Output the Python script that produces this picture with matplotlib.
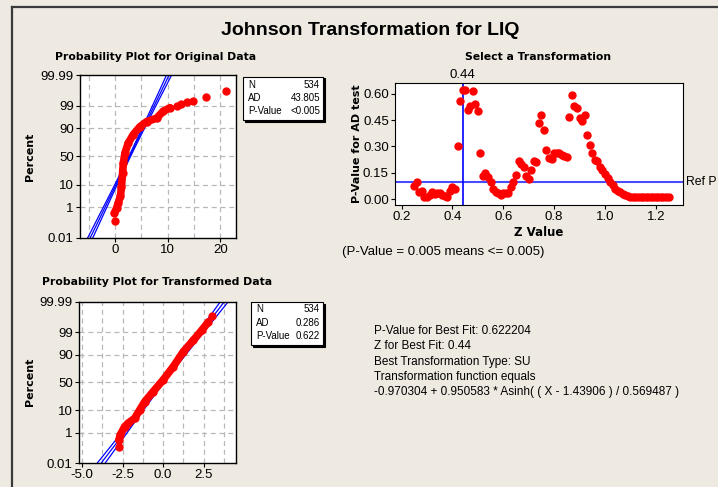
import matplotlib
matplotlib.use('Agg')
import matplotlib.pyplot as plt
import numpy as np
from matplotlib.patches import Rectangle
from matplotlib.lines import Line2D
from statistics import NormalDist

W, H = 718, 487
BG = '#EEEAE2'
RED = '#FF0000'
BLUE = '#0000FF'
GRID = '#B8B8B8'

# ---------------- data ----------------
pct_ticks = [0.01, 1, 10, 50, 90, 99, 99.99]
pct_labels = ['0.01', '1', '10', '50', '90', '99', '99.99']

# Original data: value vs cumulative percent
orig_val = [-0.10, -0.15, 0.27, 0.57, 1.00, 1.20, 1.40, 1.55, 1.85, 2.48, 3.43,
            4.70, 5.98, 7.90, 9.10, 10.40, 11.70, 12.60, 13.70, 14.90, 17.30, 21.10]
orig_pct = [0.17, 0.49, 0.94, 1.66, 3.4, 8.5, 22.0, 38.0, 56.0, 73.0, 84.0,
            91.3, 94.4, 96.0, 98.0, 98.7, 99.0, 99.13, 99.32, 99.43, 99.65, 99.86]
orig_mu, orig_sigma, n_obs = 2.75, 2.02, 534

# Transformed data
trans_val = [-2.74, -2.74, -2.65, -2.38, -2.18, -1.76, -1.45, -1.14, -0.62, 0.00,
             0.62, 1.24, 1.87, 2.39, 2.80, 3.01]
trans_pct = [0.15, 0.39, 0.78, 2.07, 2.94, 4.95, 10.2, 18.7, 33.7, 54.8,
             76.7, 92.2, 97.5, 99.22, 99.75, 99.89]
trans_mu, trans_sigma = -0.03, 1.02

# Select a transformation: Z value vs AD p-value
z_values = [0.25, 0.26, 0.27, 0.28, 0.29, 0.30, 0.31, 0.32, 0.33, 0.34,
            0.35, 0.36, 0.37, 0.38, 0.39, 0.40, 0.41, 0.42, 0.43, 0.44,
            0.45, 0.46, 0.47, 0.48, 0.49, 0.50, 0.51, 0.52, 0.53, 0.54,
            0.55, 0.56, 0.57, 0.58, 0.59, 0.60, 0.61, 0.62, 0.63, 0.64,
            0.65, 0.66, 0.67, 0.68, 0.69, 0.70, 0.71, 0.72, 0.73, 0.74,
            0.75, 0.76, 0.77, 0.78, 0.79, 0.80, 0.81, 0.82, 0.83, 0.84,
            0.85, 0.86, 0.87, 0.88, 0.89, 0.90, 0.91, 0.92, 0.93, 0.94,
            0.95, 0.96, 0.97, 0.98, 0.99, 1.00, 1.01, 1.02, 1.03, 1.04,
            1.05, 1.06, 1.07, 1.08, 1.09, 1.10, 1.11, 1.12, 1.13, 1.14,
            1.15, 1.16, 1.17, 1.18, 1.19, 1.20, 1.21, 1.22, 1.23, 1.24, 1.25]
p_values = [0.076, 0.095, 0.042, 0.045, 0.013, 0.013, 0.025, 0.040, 0.030, 0.036,
            0.036, 0.025, 0.020, 0.013, 0.048, 0.068, 0.057, 0.305, 0.561, 0.624,
            0.624, 0.506, 0.532, 0.618, 0.540, 0.500, 0.265, 0.132, 0.147, 0.124,
            0.099, 0.055, 0.042, 0.032, 0.023, 0.035, 0.032, 0.035, 0.070, 0.095,
            0.135, 0.215, 0.200, 0.180, 0.130, 0.115, 0.165, 0.215, 0.210, 0.435,
            0.480, 0.395, 0.280, 0.235, 0.228, 0.265, 0.265, 0.265, 0.252, 0.246,
            0.242, 0.466, 0.595, 0.528, 0.518, 0.462, 0.443, 0.481, 0.366, 0.310,
            0.265, 0.225, 0.218, 0.185, 0.165, 0.145, 0.120, 0.100, 0.080, 0.060,
            0.048, 0.042, 0.030, 0.022, 0.016, 0.013, 0.013, 0.013, 0.013, 0.013,
            0.013, 0.013, 0.013, 0.013, 0.013, 0.013, 0.013, 0.013, 0.013, 0.013, 0.013]
best_z = 0.44
ref_p = 0.10

info_lines = ['P-Value for Best Fit: 0.622204',
              'Z for Best Fit: 0.44',
              'Best Transformation Type: SU',
              'Transformation function equals',
              '-0.970304 + 0.950583 * Asinh( ( X - 1.43906 ) / 0.569487 )']

# ---------------- helpers ----------------
nd = NormalDist()
def zq(p):
    return nd.inv_cdf(p / 100.0)

fig = plt.figure(figsize=(W / 100, H / 100), dpi=100)
fig.patch.set_facecolor(BG)

def fx(x):
    return x / W
def fy(y):
    return 1 - y / H
def rect(l, t, r, b):
    return [fx(l), fy(b), (r - l) / W, (b - t) / H]

TICKFONT = ['Liberation Sans', 'DejaVu Sans']
BOLDFONT = ['DejaVu Sans']

def ptext(x, y, s, **kw):
    return fig.text(fx(x), fy(y), s, **kw)

# frame
fig.add_artist(Line2D([fx(11.5), fx(11.5)], [0, fy(6.7)], color='#3A3A3A', lw=1.6))
fig.add_artist(Line2D([fx(11.5), 1.0], [fy(6.7), fy(6.7)], color='#3A3A3A', lw=1.6))

# main title
ptext(370, 35, 'Johnson Transformation for LIQ', ha='center', va='baseline',
      fontsize=14, fontweight='bold', family=['Liberation Sans', 'DejaVu Sans'])

def stats_box(l, t, r, b, rows, xl, xr, ys):
    fig.add_artist(Rectangle((fx(l + 1.5), fy(b + 1.5)), (r - l) / W, (b - t) / H,
                             transform=fig.transFigure, facecolor='black',
                             edgecolor='black', lw=0.8))
    fig.add_artist(Rectangle((fx(l), fy(b)), (r - l) / W, (b - t) / H,
                             transform=fig.transFigure, facecolor='white',
                             edgecolor='black', lw=0.8))
    for (a, v), yy in zip(rows, ys):
        ptext(xl, yy, a, ha='left', va='center', fontsize=7, family=TICKFONT)
        ptext(xr, yy, v, ha='right', va='center', fontsize=7, family=TICKFONT)

def prob_panel(box, vals, pcts, mu, sigma, xlim, xticks, xticklabels, xgrid,
               dense_slice):
    ax = fig.add_axes(rect(*box))
    ax.set_facecolor('white')
    zl = zq(99.99)
    ax.set_ylim(-zl, zl)
    ax.set_xlim(*xlim)
    ax.set_yticks([zq(p) for p in pct_ticks])
    ax.set_yticklabels(pct_labels)
    ax.set_xticks(xticks)
    ax.set_xticklabels(xticklabels)
    for p in pct_ticks[1:-1]:
        ax.axhline(zq(p), color=GRID, ls=(0, (4, 3)), lw=0.9, zorder=0)
    for g in xgrid:
        ax.axvline(g, color=GRID, ls=(0, (4, 3)), lw=0.9, zorder=0)
    # fitted line with confidence band
    zz = np.linspace(-4.2, 4.2, 300)
    xc = mu + zz * sigma
    se = 1.96 * sigma * np.sqrt((1 + zz ** 2 / 2) / n_obs)
    for xl in (xc - se, xc, xc + se):
        ax.plot(xl, zz, color=BLUE, lw=0.9, zorder=2)
    zs = [zq(p) for p in pcts]
    ax.plot(vals[dense_slice], zs[dense_slice], color=RED, lw=5.5,
            solid_capstyle='round', solid_joinstyle='round', zorder=3)
    ax.plot(vals, zs, 'o', color=RED, ms=5, mec=RED, zorder=4)
    ax.tick_params(direction='out', length=3, width=0.8, labelsize=9.5, pad=1.5)
    for lab in ax.get_xticklabels() + ax.get_yticklabels():
        lab.set_family(TICKFONT)
    for s in ax.spines.values():
        s.set_linewidth(1.0)
    return ax

# Panel 1
ptext(156, 57, 'Probability Plot for Original Data', ha='center', va='center',
      fontsize=7.8, fontweight='bold', family=BOLDFONT)
prob_panel((80, 75, 236, 238), orig_val, orig_pct, orig_mu, orig_sigma,
           (-6.7, 23.0), [0, 10, 20], ['0', '10', '20'],
           [-5, 0, 5, 10, 15, 20], slice(1, 16))
ptext(30, 157, 'Percent', rotation=90, ha='center', va='center', fontsize=8,
      fontweight='bold', family=BOLDFONT)
stats_box(243, 77, 323, 120, [('N', '534'), ('AD', '43.805'), ('P-Value', '<0.005')],
          248, 320, [84.5, 98, 111])

# Panel 2
ptext(157, 282, 'Probability Plot for Transformed Data', ha='center', va='center',
      fontsize=7.8, fontweight='bold', family=BOLDFONT)
prob_panel((79, 302, 236, 463), trans_val, trans_pct, trans_mu, trans_sigma,
           (-5.2, 4.5), [-5.0, -2.5, 0.0, 2.5], ['-5.0', '-2.5', '0.0', '2.5'],
           [-5.0, -3.75, -2.5, -1.25, 0, 1.25, 2.5, 3.75], slice(1, 15))
ptext(30, 382, 'Percent', rotation=90, ha='center', va='center', fontsize=8,
      fontweight='bold', family=BOLDFONT)
stats_box(251, 302, 323, 345, [('N', '534'), ('AD', '0.286'), ('P-Value', '0.622')],
          256, 320, [308.5, 323, 336])

# Panel 3
ptext(538, 57, 'Select a Transformation', ha='center', va='center',
      fontsize=7.8, fontweight='bold', family=BOLDFONT)
ax3 = fig.add_axes(rect(395, 83, 683, 205))
ax3.set_facecolor('white')
ax3.set_xlim(0.174, 1.307)
ax3.set_ylim(-0.034, 0.662)
ax3.set_xticks([0.2, 0.4, 0.6, 0.8, 1.0, 1.2])
ax3.set_xticklabels(['0.2', '0.4', '0.6', '0.8', '1.0', '1.2'])
ax3.set_yticks([0.0, 0.15, 0.30, 0.45, 0.60])
ax3.set_yticklabels(['0.00', '0.15', '0.30', '0.45', '0.60'])
ax3.axhline(ref_p, color='#4A4AFF', lw=1.5, zorder=1)
ax3.axvline(best_z, color=BLUE, lw=1.2, zorder=1)
ax3.plot(z_values, p_values, 'o', color=RED, mec=RED, ms=5, zorder=3)
ax3.tick_params(direction='out', length=3, width=0.8, labelsize=9.5, pad=1.5)
for lab in ax3.get_xticklabels() + ax3.get_yticklabels():
    lab.set_family(TICKFONT)
ax3.text(best_z, 1.02, '0.44', transform=ax3.get_xaxis_transform(), ha='center',
         va='bottom', fontsize=9.5, family=TICKFONT)
ptext(686, 182, 'Ref P', ha='left', va='center', fontsize=8.8, family=TICKFONT)
ptext(357, 144, 'P-Value for AD test', rotation=90, ha='center', va='center',
      fontsize=8, fontweight='bold', family=BOLDFONT)
ptext(539, 233, 'Z Value', ha='center', va='center', fontsize=8.5,
      fontweight='bold', family=BOLDFONT)
ptext(342, 252, '(P-Value = 0.005 means <= 0.005)', ha='left', va='center',
      fontsize=9.5, family=TICKFONT)

# info text
for i, line in enumerate(info_lines):
    ptext(374, 331 + i * 15.3, line, ha='left', va='center', fontsize=8.5,
          family=TICKFONT)

fig.savefig('out.png', dpi=100, facecolor=BG)
